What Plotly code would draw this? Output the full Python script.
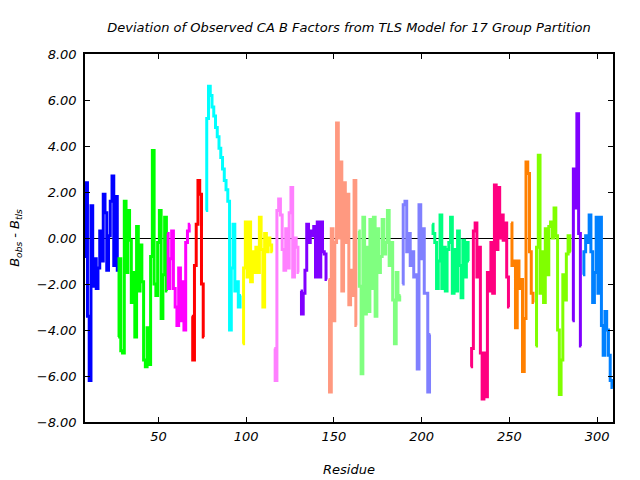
import plotly.graph_objects as go

# Residue ranges and deviation values (B_obs - B_tls) per TLS group
group_colors = ["#0000ff", "#00ff00", "#ff00ff", "#ff0000", "#00ffff", "#ffff00",
                "#ff80ff", "#8000ff", "#ff9980", "#80ff80", "#8080ff", "#00ff80",
                "#ff0080", "#ff8000", "#80ff00", "#8000ff", "#0080ff"]

g1_x = list(range(8, 28))
g1_y = [-0.8, 2.4, -3.4, -6.2, 1.4, -2.1, -0.9, -2.2, -1.3, 0.3, -1.0, 1.9, 1.1, -1.4, 0.1, 1.6, 2.7, -1.2, 1.8, -1.4]

g2_x = list(range(27, 56))
g2_y = [-4.3, -0.9, -4.9, -5.0, 1.6, -1.5, 1.2, -0.1, -2.8, -1.5, -4.3, 0.5, -2.3, -0.3, -1.9, -5.3, -5.6,
        -3.9, -5.5, -0.8, 3.8, -2.0, -2.5, -0.2, 1.2, -3.5, -1.6, 0.9, -2.3]

g3_x = list(range(55, 69))
g3_y = [0.2, -2.2, -0.9, 0.3, -2.2, -3.0, -3.8, -1.3, -3.6, -1.9, -4.0, -0.2, 0.3, 0.6]

g4_x = list(range(69, 77))
g4_y = [-3.4, -5.3, -1.2, 0.6, 2.5, 1.9, -2.0, -4.3]

g5_x = list(range(77, 98))
g5_y = [1.2, 5.2, 6.6, 6.2, 5.7, 5.3, 4.8, 4.4, 3.9, 3.5, 3.0, 2.5, 2.1, 1.6, -4.0, -1.3, 0.6, -2.3, -1.9, -3.0, -2.5]

g6_x = list(range(98, 116))
g6_y = [-4.6, -1.3, 0.7, -1.7, 0.7, -1.9, -0.6, -1.5, -0.4, -1.5, 0.9, -0.5, -3.0, 0.2, -0.6, 0.0, -0.3, -0.6]

g7_x = list(range(116, 131))
g7_y = [-4.8, -6.2, 1.2, 1.7, 1.0, -0.5, -1.4, 0.4, -1.3, 1.1, 2.2, -1.7, 0.0, -0.4, -1.5]

g8_x = list(range(131, 147))
g8_y = [-2.3, -3.3, -2.4, -1.4, 0.6, -0.2, 0.3, 0.1, 0.5, -1.7, 0.7, -1.7, 0.7, -0.6, -0.7, -1.8]

g9_x = list(range(147, 164))
g9_y = [-1.8, -6.7, 0.4, -3.6, -0.2, 5.0, 0.0, 3.3, -2.3, 2.4, -0.2, 1.9, -2.9, -1.4, -2.5, 2.5, -3.8]

g10_x = list(range(164, 189))
g10_y = [0.3, -2.1, -5.9, 0.9, -3.3, -0.4, -3.2, 0.8, -2.2, 0.9, -3.4, 0.4, -1.5, -0.8, 0.8, -0.7,
         -0.2, 1.2, -1.2, -0.2, -2.7, -4.6, -1.5, -2.7, -2.5]

g11_x = list(range(189, 206))
g11_y = [-2.0, 1.45, 1.6, -0.6, 0.2, -1.2, -0.6, -1.7, -1.6, -5.7, 1.45, -0.9, 0.4, -2.4, -2.4, -6.7, -4.2]

g12_x = list(range(206, 228))
g12_y = [0.6, 0.2, -0.2, -2.2, -1.0, 1.0, -2.2, -0.4, -2.3, -0.5, -0.2, 0.9, -2.4, -0.5, -2.3, 0.3,
         -1.2, -2.6, -0.1, -1.7, -0.2, -1.0]

g13_x = list(range(228, 251))
g13_y = [-5.6, -4.8, 0.3, 0.65, -1.7, -0.4, -5.0, -7.0, -5.0, -6.9, -1.5, -2.3, -0.2, -2.4, 2.3, -0.5,
         2.2, 0.0, 1.0, -0.1, 0.65, -1.7, -3.0]

g14_x = list(range(251, 265))
g14_y = [0.65, -1.2, -1.0, -3.9, -1.0, -2.2, -1.8, -5.8, -3.5, 3.3, 2.8, -0.6, -2.4, -2.8]

g15_x = list(range(265, 286))
g15_y = [-4.7, -0.4, 3.6, -2.4, -0.6, -2.8, 0.4, -1.6, 0.5, 0.7, 0.0, 1.3, 0.1, -4.0, -6.8, -5.3,
         -1.6, -2.7, -0.7, 0.1, -0.6]

g16_x = list(range(286, 292))
g16_y = [-3.6, 3.0, 1.3, 5.4, 0.2, -4.7]

g17_x = list(range(292, 310))
g17_y = [-1.6, -0.6, 0.1, -0.2, 1.0, -0.6, -2.8, -1.5, 0.9, -2.4, 0.9, -3.8, -5.1, -3.2, -4.0, -5.1, -6.2, -6.5]

groups_x = [g1_x, g2_x, g3_x, g4_x, g5_x, g6_x, g7_x, g8_x, g9_x, g10_x, g11_x, g12_x, g13_x, g14_x, g15_x, g16_x, g17_x]
groups_y = [g1_y, g2_y, g3_y, g4_y, g5_y, g6_y, g7_y, g8_y, g9_y, g10_y, g11_y, g12_y, g13_y, g14_y, g15_y, g16_y, g17_y]

x_ticks = [50, 100, 150, 200, 250, 300]
y_ticks = [-8, -6, -4, -2, 0, 2, 4, 6, 8]

FONT = "DejaVu Sans"

fig = go.Figure()
for gx, gy, col in zip(groups_x, groups_y, group_colors):
    fig.add_trace(go.Scatter(x=gx, y=gy, mode="lines", line=dict(color=col, width=3, shape="hvh"),
                             showlegend=False, hoverinfo="skip"))

fig.update_layout(
    width=640, height=480,
    margin=dict(l=85, r=27, t=54, b=58),
    paper_bgcolor="white", plot_bgcolor="white",
    font=dict(family=FONT, size=13, color="black", style="italic"),
    title=dict(text="Deviation of Observed CA B Factors from TLS Model for 17 Group Partition",
               x=0.5, xref="paper", xanchor="center", y=1 - 27 / 480, yanchor="middle",
               font=dict(family=FONT, size=13, color="black", style="italic")),
    xaxis=dict(range=[8.1, 309.1], tickvals=x_ticks, ticks="inside", ticklen=5, tickcolor="black",
               showline=True, linecolor="black", linewidth=1.5, mirror="ticks", showgrid=False,
               zeroline=False, automargin=False, ticklabelstandoff=2,
               tickfont=dict(family=FONT, size=13, style="italic"),
               title=dict(text="Residue", standoff=22, font=dict(family=FONT, size=13, style="italic"))),
    yaxis=dict(range=[-8, 8], tickvals=y_ticks, tickformat=".2f", ticks="inside", ticklen=5,
               tickcolor="black", showline=True, linecolor="black", linewidth=1.5, mirror="ticks",
               showgrid=False, zeroline=True, zerolinecolor="black", zerolinewidth=1, automargin=False,
               ticklabelstandoff=4, tickfont=dict(family=FONT, size=13, style="italic"),
               title=dict(text="B<sub>obs</sub> - B<sub>tls</sub>", standoff=14,
                          font=dict(family=FONT, size=13, style="italic"))),
)

fig.write_html("out.html")
